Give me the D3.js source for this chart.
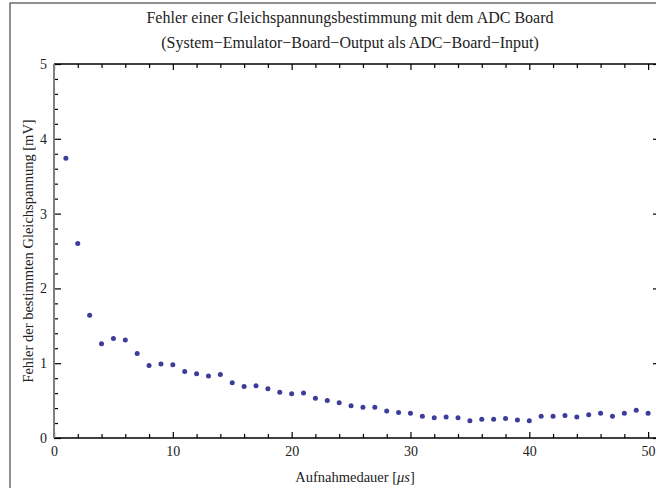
<!DOCTYPE html>
<html>
<head>
<meta charset="utf-8">
<script src="https://cdn.jsdelivr.net/npm/d3@7"></script>
<style>
  body { margin: 0; background: #fff; }
  svg { display: block; }
  .axis path { display: none; }
  .axis text { font-family: "Liberation Serif", serif; font-size: 14px; fill: #222; }
  .axis line { stroke: #000; stroke-width: 1.2; }
</style>
</head>
<body>
<div id="chart-area"></div>
<script>
// measurement durations (µs) and error values (mV)
const durations = [1, 2, 3, 4, 5, 6, 7, 8, 9, 10, 11, 12, 13, 14, 15, 16, 17, 18, 19, 20,
    21, 22, 23, 24, 25, 26, 27, 28, 29, 30, 31, 32, 33, 34, 35, 36, 37, 38, 39, 40,
    41, 42, 43, 44, 45, 46, 47, 48, 49, 50];
const errors = [3.74, 2.60, 1.64, 1.26, 1.33, 1.31, 1.13, 0.97, 0.99, 0.98,
    0.89, 0.86, 0.83, 0.85, 0.74, 0.69, 0.70, 0.66, 0.61, 0.59,
    0.60, 0.53, 0.50, 0.47, 0.43, 0.41, 0.41, 0.36, 0.34, 0.33,
    0.29, 0.27, 0.28, 0.27, 0.23, 0.25, 0.25, 0.26, 0.24, 0.23,
    0.29, 0.29, 0.30, 0.28, 0.31, 0.33, 0.29, 0.33, 0.37, 0.33];
const xMajor = [0, 10, 20, 30, 40, 50];
const yMajor = [0, 1, 2, 3, 4, 5];
const titleLines = ["Fehler einer Gleichspannungsbestimmung mit dem ADC Board",
    "(System\u2212Emulator\u2212Board\u2212Output als ADC\u2212Board\u2212Input)"];

const W = 656, H = 488;
const svg = d3.select("#chart-area")
    .append("svg")
    .attr("width", W)
    .attr("height", H);

const x = d3.scaleLinear().domain([0, 51]).range([54, 660]);
const y = d3.scaleLinear().domain([0, 5]).range([438, 64]);

const xMinor = d3.range(0, 52, 2).filter(v => v % 10 !== 0);
const yMinor = d3.range(0, 5.01, 0.2).map(v => +v.toFixed(1)).filter(v => Math.abs(v - Math.round(v)) > 1e-6);

// outer border
svg.append("rect")
    .attr("x", 10).attr("y", 3)
    .attr("width", W + 20).attr("height", H + 20)
    .attr("fill", "none")
    .attr("stroke", "#555")
    .attr("stroke-width", 1.3);

// bottom axis
svg.append("g").attr("class", "axis")
    .attr("transform", "translate(0," + y(0) + ")")
    .call(d3.axisBottom(x).tickValues(xMajor).tickSizeInner(-6).tickPadding(8).tickFormat(d3.format("d")));
svg.append("g").attr("class", "axis")
    .attr("transform", "translate(0," + y(0) + ")")
    .call(d3.axisBottom(x).tickValues(xMinor).tickSizeInner(-4).tickFormat(""));
// top axis
svg.append("g").attr("class", "axis")
    .attr("transform", "translate(0," + y(5) + ")")
    .call(d3.axisTop(x).tickValues(xMajor).tickSizeInner(-6).tickFormat(""));
svg.append("g").attr("class", "axis")
    .attr("transform", "translate(0," + y(5) + ")")
    .call(d3.axisTop(x).tickValues(xMinor).tickSizeInner(-4).tickFormat(""));
// left axis
svg.append("g").attr("class", "axis")
    .attr("transform", "translate(" + x(0) + ",0)")
    .call(d3.axisLeft(y).tickValues(yMajor).tickSizeInner(-7).tickPadding(7).tickFormat(d3.format("d")));
svg.append("g").attr("class", "axis")
    .attr("transform", "translate(" + x(0) + ",0)")
    .call(d3.axisLeft(y).tickValues(yMinor).tickSizeInner(-4).tickFormat(""));
// right axis
svg.append("g").attr("class", "axis")
    .attr("transform", "translate(" + x(51) + ",0)")
    .call(d3.axisRight(y).tickValues(yMajor).tickSizeInner(-7).tickFormat(""));
svg.append("g").attr("class", "axis")
    .attr("transform", "translate(" + x(51) + ",0)")
    .call(d3.axisRight(y).tickValues(yMinor).tickSizeInner(-4).tickFormat(""));

// frame lines
svg.append("line")
    .attr("x1", x(0)).attr("x2", x(51)).attr("y1", y(5)).attr("y2", y(5))
    .attr("stroke", "#000").attr("stroke-width", 1.3);
svg.append("line")
    .attr("x1", x(0)).attr("x2", x(51)).attr("y1", y(0)).attr("y2", y(0))
    .attr("stroke", "#000").attr("stroke-width", 1.6);
svg.append("line")
    .attr("x1", x(0)).attr("x2", x(0)).attr("y1", y(0)).attr("y2", y(5))
    .attr("stroke", "#808080").attr("stroke-width", 2);

// points
svg.selectAll("circle.pt")
    .data(durations)
    .enter()
    .append("circle")
    .attr("class", "pt")
    .attr("cx", d => x(d))
    .attr("cy", (d, i) => y(errors[i]))
    .attr("r", 2.5)
    .attr("fill", "#3c3c9a");

// title
svg.selectAll("text.title")
    .data(titleLines)
    .enter()
    .append("text")
    .attr("class", "title")
    .attr("x", 350)
    .attr("y", (d, i) => 23 + i * 25)
    .attr("text-anchor", "middle")
    .attr("font-family", "Liberation Serif, serif")
    .attr("font-size", "16px")
    .attr("fill", "#222")
    .text(d => d);

// x label
const xl = svg.append("text")
    .attr("x", 355)
    .attr("y", 482)
    .attr("text-anchor", "middle")
    .attr("font-family", "Liberation Serif, serif")
    .attr("font-size", "14.5px")
    .attr("fill", "#222");
xl.append("tspan").text("Aufnahmedauer [");
xl.append("tspan").attr("font-style", "italic").text("\u03bcs");
xl.append("tspan").text("]");

// y label
svg.append("text")
    .attr("transform", "translate(33," + 251 + ") rotate(-90)")
    .attr("text-anchor", "middle")
    .attr("font-family", "Liberation Serif, serif")
    .attr("font-size", "14.5px")
    .attr("fill", "#222")
    .text("Fehler der bestimmten Gleichspannung [mV]");
</script>
</body>
</html>
